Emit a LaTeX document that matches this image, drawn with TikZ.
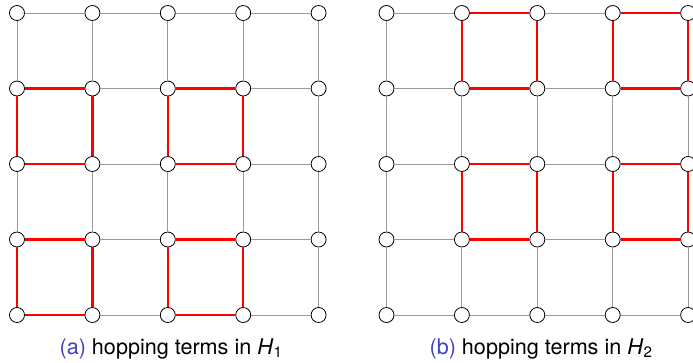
\documentclass[tikz,border=0pt]{standalone}
\usepackage{fontspec}
\setmainfont{TeX Gyre Heros}
\definecolor{capblue}{RGB}{64,64,200}
\begin{document}
\begin{tikzpicture}[x=1pt,y=-1pt,
  site/.style={circle,draw=black,fill=white,line width=0.8pt,minimum size=15pt,inner sep=0pt},
  bond/.style={draw=black!40,line width=0.9pt},
  hop/.style={draw=red,line width=2.2pt},
  sublabel/.style={font=\fontsize{21.6}{26}\selectfont,anchor=base}]
\useasboundingbox (0,0) rectangle (693,362);
% lattice sites of both panels
\foreach \g/\xo in {L/17,R/386.5}{
  \foreach \i in {0,...,4}{
    \foreach \j in {0,...,4}{
      \node[site] (\g-\i-\j) at ({\xo+75.4*\i},{13+75.5*\j}) {};
    }
  }
}
% horizontal bonds
\foreach \i in {0,...,3}{
  \foreach \j in {0,...,4}{
    \pgfmathtruncatemacro\n{\i+1}
    \pgfmathtruncatemacro\redL{and(mod(\i,2)==0,\j>=1)}
    \pgfmathtruncatemacro\redR{and(mod(\i,2)==1,\j<=3)}
    \ifnum\redL=1 \draw[hop] (L-\i-\j) -- (L-\n-\j); \else \draw[bond] (L-\i-\j) -- (L-\n-\j); \fi
    \ifnum\redR=1 \draw[hop] (R-\i-\j) -- (R-\n-\j); \else \draw[bond] (R-\i-\j) -- (R-\n-\j); \fi
  }
}
% vertical bonds
\foreach \i in {0,...,4}{
  \foreach \j in {0,...,3}{
    \pgfmathtruncatemacro\n{\j+1}
    \pgfmathtruncatemacro\redL{and(\i<=3,mod(\j,2)==1)}
    \pgfmathtruncatemacro\redR{and(\i>=1,mod(\j,2)==0)}
    \ifnum\redL=1 \draw[hop] (L-\i-\j) -- (L-\i-\n); \else \draw[bond] (L-\i-\j) -- (L-\i-\n); \fi
    \ifnum\redR=1 \draw[hop] (R-\i-\j) -- (R-\i-\n); \else \draw[bond] (R-\i-\j) -- (R-\i-\n); \fi
  }
}
% panel captions
\node[sublabel] (capA) at (171,354) {\textcolor{capblue}{(a)} hopping terms in \textit{H}\textsubscript{1}};
\node[sublabel] (capB) at (541,354) {\textcolor{capblue}{(b)} hopping terms in \textit{H}\textsubscript{2}};
\end{tikzpicture}
\end{document}
